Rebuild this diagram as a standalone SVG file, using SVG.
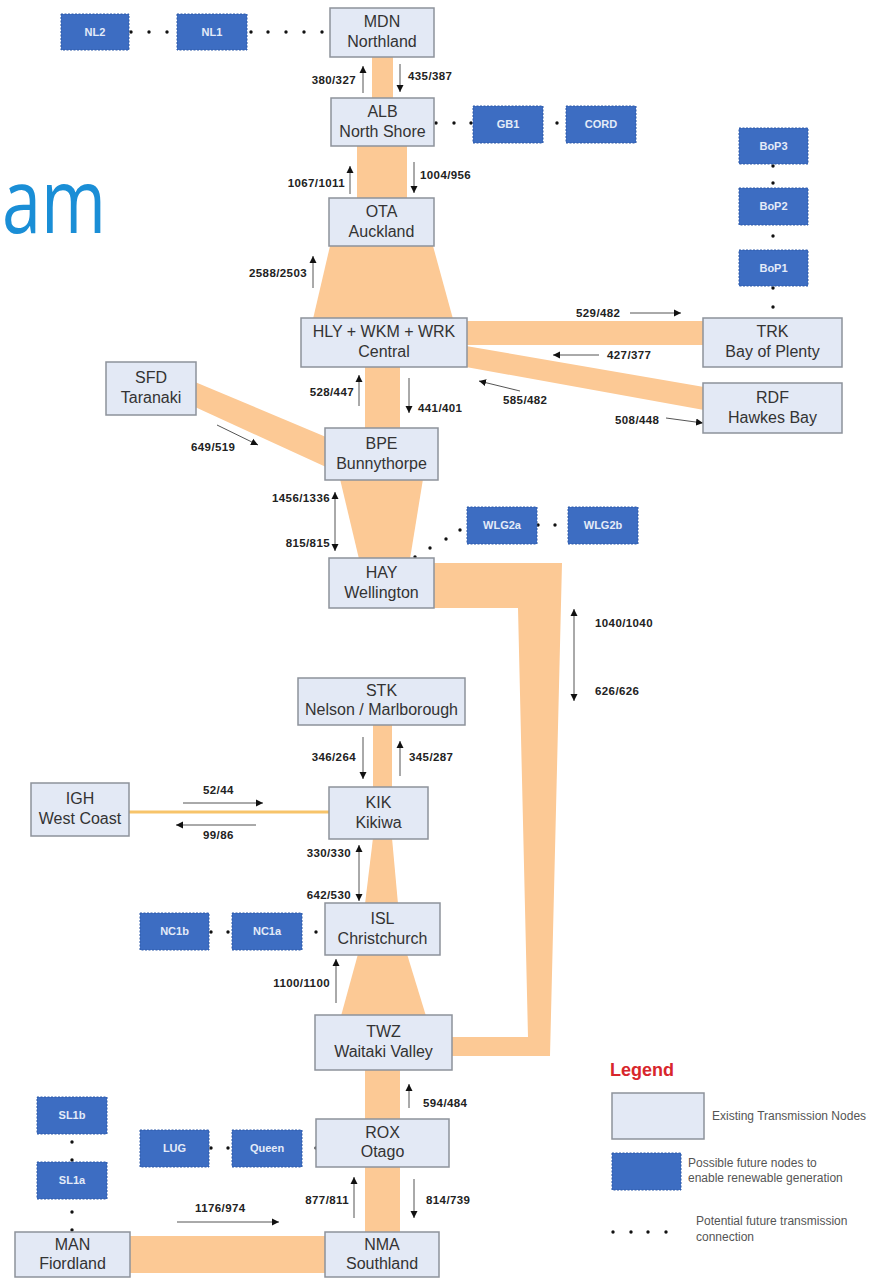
<svg xmlns="http://www.w3.org/2000/svg" width="882" height="1280" viewBox="0 0 882 1280">
<style>
.ex{fill:#e3e9f5;stroke:#8d929b;stroke-width:1.5}
.fu{fill:#3d6dc2;stroke:#2f5aa8;stroke-width:1;stroke-dasharray:2 1.5}
.nt{font-family:"Liberation Sans",Arial,sans-serif;font-size:16px;fill:#333;text-anchor:middle}
.ft{font-family:"Liberation Sans",Arial,sans-serif;font-size:11px;font-weight:bold;fill:#e4ebf8;text-anchor:middle}
.lb{font-family:"Liberation Sans",Arial,sans-serif;font-size:11.5px;font-weight:bold;fill:#222;letter-spacing:0.4px}
.band{fill:#fcc995}
.ar{stroke:#555;stroke-width:1;fill:none;marker-end:url(#ah)}
.ar2{stroke:#555;stroke-width:1;fill:none;marker-end:url(#ah);marker-start:url(#ah)}
.dot{fill:#111}
.lg{font-family:"Liberation Sans",Arial,sans-serif;font-size:12px;fill:#555}
</style>
<defs>
<marker id="ah" viewBox="0 0 10 10" refX="10" refY="5" markerWidth="7" markerHeight="8" orient="auto-start-reverse" markerUnits="userSpaceOnUse">
<path d="M0,0 L10,5 L0,10 z" fill="#111"/>
</marker>
</defs>
<rect width="882" height="1280" fill="#ffffff"/>
<text x="2" y="233" font-family="'Open Sans','Liberation Sans',sans-serif" font-size="90" fill="#1a8ed6" textLength="104" lengthAdjust="spacingAndGlyphs">am</text>

<g id="connectors">
<!-- bands -->
<rect class="band" x="372" y="56" width="21" height="43"/>
<rect class="band" x="357" y="146" width="50" height="53"/>
<polygon class="band" points="330,246 433,246 453,319 313,319"/>
<rect class="band" x="466" y="321" width="238" height="24"/>
<polygon class="band" points="466,346 704,387 704,410 466,367"/>
<rect class="band" x="365" y="366" width="35" height="63"/>
<polygon class="band" points="195,382 326,437 326,467 195,407"/>
<polygon class="band" points="340,479 423,479 410,559 359,559"/>
<polygon class="band" points="433,563 562,563 550,1056 451,1056 451,1037 528,1037 518,608 433,608"/>
<rect class="band" x="373" y="724" width="19" height="64"/>
<polygon class="band" points="373,838 392,838 398,904 365,904"/>
<polygon class="band" points="358,954 407,954 426,1016 341,1016"/>
<rect class="band" x="365" y="1069" width="35" height="51"/>
<rect class="band" x="365" y="1166" width="35" height="67"/>
<rect class="band" x="129" y="1236" width="197" height="37"/>
<line x1="129" y1="812" x2="330" y2="812" stroke="#f7c46a" stroke-width="3"/>

<!-- dotted potential connections -->
<g class="dot">
<circle cx="131" cy="32" r="1.7"/><circle cx="149" cy="32" r="1.7"/><circle cx="167" cy="32" r="1.7"/>
<circle cx="251" cy="32" r="1.7"/><circle cx="268" cy="32" r="1.7"/><circle cx="286" cy="32" r="1.7"/><circle cx="304" cy="32" r="1.7"/><circle cx="322" cy="32" r="1.7"/>
<circle cx="436" cy="123" r="1.7"/><circle cx="454" cy="123" r="1.7"/><circle cx="471" cy="123" r="1.7"/>
<circle cx="557" cy="123" r="1.7"/>
<circle cx="773" cy="166" r="1.7"/><circle cx="773" cy="183" r="1.7"/><circle cx="773" cy="236" r="1.7"/><circle cx="773" cy="288" r="1.7"/><circle cx="773" cy="307" r="1.7"/>
<circle cx="415" cy="557" r="1.7"/><circle cx="430" cy="548" r="1.7"/><circle cx="446" cy="539" r="1.7"/><circle cx="460" cy="530" r="1.7"/>
<circle cx="538" cy="525" r="1.7"/><circle cx="555" cy="525" r="1.7"/>
<circle cx="211" cy="932" r="1.7"/><circle cx="228" cy="932" r="1.7"/><circle cx="316" cy="932" r="1.7"/>
<circle cx="211" cy="1148" r="1.7"/><circle cx="228" cy="1148" r="1.7"/><circle cx="316" cy="1148" r="1.7"/>
<circle cx="72" cy="1142" r="1.7"/><circle cx="72" cy="1160" r="1.7"/>
<circle cx="72" cy="1212" r="1.7"/><circle cx="72" cy="1230" r="1.7"/>
</g>

<!-- flow arrows -->
<line class="ar" x1="363" y1="93" x2="363" y2="66"/>
<text class="lb" x="356" y="84" text-anchor="end">380/327</text>
<line class="ar" x1="400" y1="64" x2="400" y2="92"/>
<text class="lb" x="408" y="80">435/387</text>
<line class="ar" x1="350" y1="194" x2="350" y2="166"/>
<text class="lb" x="345" y="187" text-anchor="end">1067/1011</text>
<line class="ar" x1="414" y1="162" x2="414" y2="193"/>
<text class="lb" x="420" y="179">1004/956</text>
<line class="ar" x1="313" y1="288" x2="313" y2="256"/>
<text class="lb" x="307" y="277" text-anchor="end">2588/2503</text>
<line class="ar" x1="630" y1="313" x2="681" y2="313"/>
<text class="lb" x="576" y="317">529/482</text>
<line class="ar" x1="599" y1="355" x2="553" y2="355"/>
<text class="lb" x="607" y="359">427/377</text>
<line class="ar" x1="520" y1="391" x2="479" y2="381"/>
<text class="lb" x="503" y="404">585/482</text>
<line class="ar" x1="666" y1="418" x2="703" y2="423"/>
<text class="lb" x="615" y="424">508/448</text>
<line class="ar" x1="359" y1="406" x2="359" y2="375"/>
<text class="lb" x="354" y="396" text-anchor="end">528/447</text>
<line class="ar" x1="409" y1="378" x2="409" y2="413"/>
<text class="lb" x="418" y="412">441/401</text>
<line class="ar" x1="217" y1="425" x2="258" y2="445"/>
<text class="lb" x="191" y="451">649/519</text>
<line class="ar2" x1="335" y1="492" x2="335" y2="551"/>
<text class="lb" x="330" y="502" text-anchor="end">1456/1336</text>
<text class="lb" x="330" y="547" text-anchor="end">815/815</text>
<line class="ar2" x1="574" y1="609" x2="574" y2="701"/>
<text class="lb" x="595" y="627">1040/1040</text>
<text class="lb" x="595" y="695">626/626</text>
<line class="ar" x1="363" y1="737" x2="363" y2="779"/>
<text class="lb" x="356" y="761" text-anchor="end">346/264</text>
<line class="ar" x1="400" y1="776" x2="400" y2="741"/>
<text class="lb" x="409" y="761">345/287</text>
<line class="ar" x1="183" y1="803" x2="263" y2="803"/>
<text class="lb" x="203" y="794">52/44</text>
<line class="ar" x1="256" y1="825" x2="176" y2="825"/>
<text class="lb" x="203" y="839">99/86</text>
<line class="ar2" x1="359" y1="845" x2="359" y2="901"/>
<text class="lb" x="351" y="857" text-anchor="end">330/330</text>
<text class="lb" x="351" y="899" text-anchor="end">642/530</text>
<line class="ar" x1="336" y1="1003" x2="336" y2="959"/>
<text class="lb" x="330" y="987" text-anchor="end">1100/1100</text>
<line class="ar" x1="409" y1="1108" x2="409" y2="1084"/>
<text class="lb" x="423" y="1107">594/484</text>
<line class="ar" x1="354" y1="1218" x2="354" y2="1177"/>
<text class="lb" x="349" y="1204" text-anchor="end">877/811</text>
<line class="ar" x1="414" y1="1179" x2="414" y2="1218"/>
<text class="lb" x="426" y="1204">814/739</text>
<line class="ar" x1="177" y1="1222" x2="279" y2="1222"/>
<text class="lb" x="195" y="1212">1176/974</text>
</g>

<!-- existing nodes -->
<g id="MDN"><rect class="ex" x="330" y="8" width="104" height="49"/><text class="nt" x="382" y="27">MDN</text><text class="nt" x="382" y="47">Northland</text></g>
<g id="ALB"><rect class="ex" x="331" y="98" width="103" height="48"/><text class="nt" x="382.5" y="117">ALB</text><text class="nt" x="382.5" y="137">North Shore</text></g>
<g id="OTA"><rect class="ex" x="329" y="198" width="105" height="48"/><text class="nt" x="381.5" y="217">OTA</text><text class="nt" x="381.5" y="237">Auckland</text></g>
<g id="Central"><rect class="ex" x="301" y="318" width="166" height="49"/><text class="nt" x="384" y="337">HLY + WKM + WRK</text><text class="nt" x="384" y="357">Central</text></g>
<g id="TRK"><rect class="ex" x="703" y="318" width="139" height="49"/><text class="nt" x="772.5" y="337">TRK</text><text class="nt" x="772.5" y="357">Bay of Plenty</text></g>
<g id="RDF"><rect class="ex" x="703" y="383" width="139" height="50"/><text class="nt" x="772.5" y="403">RDF</text><text class="nt" x="772.5" y="423">Hawkes Bay</text></g>
<g id="SFD"><rect class="ex" x="106" y="362" width="90" height="53"/><text class="nt" x="151" y="383">SFD</text><text class="nt" x="151" y="403">Taranaki</text></g>
<g id="BPE"><rect class="ex" x="325" y="428" width="113" height="52"/><text class="nt" x="381.5" y="449">BPE</text><text class="nt" x="381.5" y="469">Bunnythorpe</text></g>
<g id="HAY"><rect class="ex" x="329" y="558" width="105" height="50"/><text class="nt" x="381.5" y="578">HAY</text><text class="nt" x="381.5" y="598">Wellington</text></g>
<g id="STK"><rect class="ex" x="298" y="678" width="167" height="47"/><text class="nt" x="381.5" y="696">STK</text><text class="nt" x="381.5" y="715">Nelson / Marlborough</text></g>
<g id="KIK"><rect class="ex" x="329" y="787" width="99" height="52"/><text class="nt" x="378.5" y="808">KIK</text><text class="nt" x="378.5" y="828">Kikiwa</text></g>
<g id="IGH"><rect class="ex" x="31" y="783" width="98" height="53"/><text class="nt" x="80" y="804">IGH</text><text class="nt" x="80" y="824">West Coast</text></g>
<g id="ISL"><rect class="ex" x="325" y="903" width="115" height="52"/><text class="nt" x="382.5" y="924">ISL</text><text class="nt" x="382.5" y="944">Christchurch</text></g>
<g id="TWZ"><rect class="ex" x="315" y="1015" width="137" height="55"/><text class="nt" x="383.5" y="1037">TWZ</text><text class="nt" x="383.5" y="1057">Waitaki Valley</text></g>
<g id="ROX"><rect class="ex" x="316" y="1119" width="133" height="48"/><text class="nt" x="382.5" y="1138">ROX</text><text class="nt" x="382.5" y="1157">Otago</text></g>
<g id="NMA"><rect class="ex" x="325" y="1232" width="114" height="45"/><text class="nt" x="382" y="1250">NMA</text><text class="nt" x="382" y="1269">Southland</text></g>
<g id="MAN"><rect class="ex" x="15" y="1232" width="115" height="45"/><text class="nt" x="72.5" y="1250">MAN</text><text class="nt" x="72.5" y="1269">Fiordland</text></g>

<!-- future nodes -->
<g id="NL2"><rect class="fu" x="61" y="14" width="68" height="36"/><text class="ft" x="95" y="36">NL2</text></g>
<g id="NL1"><rect class="fu" x="177" y="14" width="70" height="36"/><text class="ft" x="212" y="36">NL1</text></g>
<g id="GB1"><rect class="fu" x="473" y="106" width="70" height="37"/><text class="ft" x="508" y="128">GB1</text></g>
<g id="CORD"><rect class="fu" x="566" y="106" width="70" height="37"/><text class="ft" x="601" y="128">CORD</text></g>
<g id="BoP3"><rect class="fu" x="739" y="128" width="69" height="36"/><text class="ft" x="773.5" y="150">BoP3</text></g>
<g id="BoP2"><rect class="fu" x="739" y="188" width="69" height="37"/><text class="ft" x="773.5" y="210">BoP2</text></g>
<g id="BoP1"><rect class="fu" x="739" y="250" width="69" height="36"/><text class="ft" x="773.5" y="272">BoP1</text></g>
<g id="WLG2a"><rect class="fu" x="467" y="507" width="70" height="37"/><text class="ft" x="502" y="529">WLG2a</text></g>
<g id="WLG2b"><rect class="fu" x="568" y="507" width="70" height="37"/><text class="ft" x="603" y="529">WLG2b</text></g>
<g id="NC1b"><rect class="fu" x="140" y="913" width="69" height="37"/><text class="ft" x="174.5" y="935">NC1b</text></g>
<g id="NC1a"><rect class="fu" x="232" y="913" width="70" height="37"/><text class="ft" x="267" y="935">NC1a</text></g>
<g id="LUG"><rect class="fu" x="140" y="1130" width="69" height="37"/><text class="ft" x="174.5" y="1152">LUG</text></g>
<g id="Queen"><rect class="fu" x="232" y="1130" width="70" height="37"/><text class="ft" x="267" y="1152">Queen</text></g>
<g id="SL1b"><rect class="fu" x="37" y="1097" width="70" height="37"/><text class="ft" x="72" y="1119">SL1b</text></g>
<g id="SL1a"><rect class="fu" x="37" y="1162" width="70" height="37"/><text class="ft" x="72" y="1184">SL1a</text></g>

<!-- legend -->
<g id="legend">
<text x="610" y="1076" font-family="'Liberation Sans',Arial,sans-serif" font-size="18" font-weight="bold" fill="#d8262c">Legend</text>
<rect class="ex" x="612" y="1093" width="92" height="46"/>
<text class="lg" x="712" y="1120">Existing Transmission Nodes</text>
<rect class="fu" x="612" y="1153" width="69" height="37"/>
<text class="lg" x="688" y="1167">Possible future nodes to</text>
<text class="lg" x="688" y="1182">enable renewable generation</text>
<g class="dot"><circle cx="613" cy="1232" r="1.7"/><circle cx="631" cy="1232" r="1.7"/><circle cx="648" cy="1232" r="1.7"/><circle cx="666" cy="1232" r="1.7"/></g>
<text class="lg" x="696" y="1225">Potential future transmission</text>
<text class="lg" x="696" y="1241">connection</text>
</g>
</svg>
